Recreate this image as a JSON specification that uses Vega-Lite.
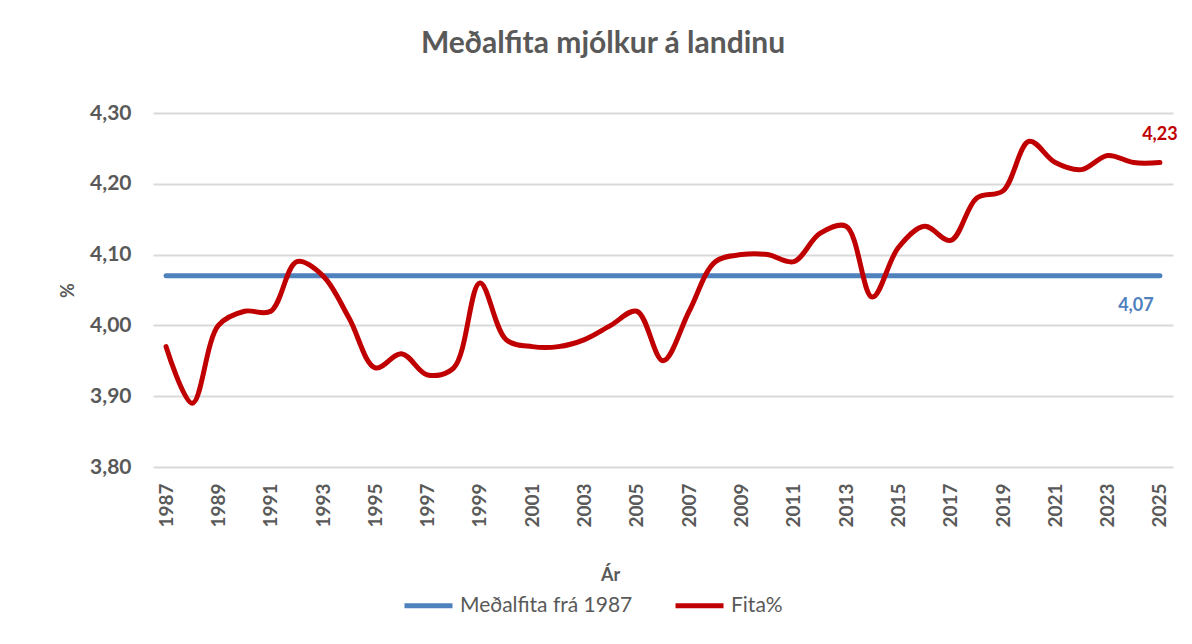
{
  "$schema": "https://vega.github.io/schema/vega-lite/v6.json",
  "width": 1020,
  "height": 354,
  "autosize": {"type": "none"},
  "padding": {"left": 153, "top": 113, "right": 19, "bottom": 177},
  "background": "white",
  "config": {
    "view": {"stroke": null},
    "font": "Lato",
    "locale": {"number": {"decimal": ",", "thousands": ".", "grouping": [3], "currency": ["", " kr."]}}
  },
  "title": {
    "text": "Meðalfita mjólkur á landinu",
    "anchor": "middle",
    "frame": "group",
    "dx": -60,
    "offset": 43,
    "fontSize": 30,
    "font": "Lato",
    "fontWeight": "bold",
    "color": "#595959"
  },
  "datasets": {
    "fita": [
      {"ar": 1987, "gildi": 3.97, "rod": "Fita%"},
      {"ar": 1988, "gildi": 3.89, "rod": "Fita%"},
      {"ar": 1989, "gildi": 4.00, "rod": "Fita%"},
      {"ar": 1990, "gildi": 4.02, "rod": "Fita%"},
      {"ar": 1991, "gildi": 4.02, "rod": "Fita%"},
      {"ar": 1992, "gildi": 4.09, "rod": "Fita%"},
      {"ar": 1993, "gildi": 4.07, "rod": "Fita%"},
      {"ar": 1994, "gildi": 4.01, "rod": "Fita%"},
      {"ar": 1995, "gildi": 3.94, "rod": "Fita%"},
      {"ar": 1996, "gildi": 3.96, "rod": "Fita%"},
      {"ar": 1997, "gildi": 3.93, "rod": "Fita%"},
      {"ar": 1998, "gildi": 3.94, "rod": "Fita%"},
      {"ar": 1999, "gildi": 4.06, "rod": "Fita%"},
      {"ar": 2000, "gildi": 3.98, "rod": "Fita%"},
      {"ar": 2001, "gildi": 3.97, "rod": "Fita%"},
      {"ar": 2002, "gildi": 3.97, "rod": "Fita%"},
      {"ar": 2003, "gildi": 3.98, "rod": "Fita%"},
      {"ar": 2004, "gildi": 4.00, "rod": "Fita%"},
      {"ar": 2005, "gildi": 4.02, "rod": "Fita%"},
      {"ar": 2006, "gildi": 3.95, "rod": "Fita%"},
      {"ar": 2007, "gildi": 4.02, "rod": "Fita%"},
      {"ar": 2008, "gildi": 4.09, "rod": "Fita%"},
      {"ar": 2009, "gildi": 4.10, "rod": "Fita%"},
      {"ar": 2010, "gildi": 4.10, "rod": "Fita%"},
      {"ar": 2011, "gildi": 4.09, "rod": "Fita%"},
      {"ar": 2012, "gildi": 4.13, "rod": "Fita%"},
      {"ar": 2013, "gildi": 4.14, "rod": "Fita%"},
      {"ar": 2014, "gildi": 4.04, "rod": "Fita%"},
      {"ar": 2015, "gildi": 4.11, "rod": "Fita%"},
      {"ar": 2016, "gildi": 4.14, "rod": "Fita%"},
      {"ar": 2017, "gildi": 4.12, "rod": "Fita%"},
      {"ar": 2018, "gildi": 4.18, "rod": "Fita%"},
      {"ar": 2019, "gildi": 4.19, "rod": "Fita%"},
      {"ar": 2020, "gildi": 4.26, "rod": "Fita%"},
      {"ar": 2021, "gildi": 4.23, "rod": "Fita%"},
      {"ar": 2022, "gildi": 4.22, "rod": "Fita%"},
      {"ar": 2023, "gildi": 4.24, "rod": "Fita%"},
      {"ar": 2024, "gildi": 4.23, "rod": "Fita%"},
      {"ar": 2025, "gildi": 4.23, "rod": "Fita%"}
    ],
    "medal": [
      {"ar": 1987, "gildi": 4.07, "rod": "Meðalfita frá 1987"},
      {"ar": 1988, "gildi": 4.07, "rod": "Meðalfita frá 1987"},
      {"ar": 1989, "gildi": 4.07, "rod": "Meðalfita frá 1987"},
      {"ar": 1990, "gildi": 4.07, "rod": "Meðalfita frá 1987"},
      {"ar": 1991, "gildi": 4.07, "rod": "Meðalfita frá 1987"},
      {"ar": 1992, "gildi": 4.07, "rod": "Meðalfita frá 1987"},
      {"ar": 1993, "gildi": 4.07, "rod": "Meðalfita frá 1987"},
      {"ar": 1994, "gildi": 4.07, "rod": "Meðalfita frá 1987"},
      {"ar": 1995, "gildi": 4.07, "rod": "Meðalfita frá 1987"},
      {"ar": 1996, "gildi": 4.07, "rod": "Meðalfita frá 1987"},
      {"ar": 1997, "gildi": 4.07, "rod": "Meðalfita frá 1987"},
      {"ar": 1998, "gildi": 4.07, "rod": "Meðalfita frá 1987"},
      {"ar": 1999, "gildi": 4.07, "rod": "Meðalfita frá 1987"},
      {"ar": 2000, "gildi": 4.07, "rod": "Meðalfita frá 1987"},
      {"ar": 2001, "gildi": 4.07, "rod": "Meðalfita frá 1987"},
      {"ar": 2002, "gildi": 4.07, "rod": "Meðalfita frá 1987"},
      {"ar": 2003, "gildi": 4.07, "rod": "Meðalfita frá 1987"},
      {"ar": 2004, "gildi": 4.07, "rod": "Meðalfita frá 1987"},
      {"ar": 2005, "gildi": 4.07, "rod": "Meðalfita frá 1987"},
      {"ar": 2006, "gildi": 4.07, "rod": "Meðalfita frá 1987"},
      {"ar": 2007, "gildi": 4.07, "rod": "Meðalfita frá 1987"},
      {"ar": 2008, "gildi": 4.07, "rod": "Meðalfita frá 1987"},
      {"ar": 2009, "gildi": 4.07, "rod": "Meðalfita frá 1987"},
      {"ar": 2010, "gildi": 4.07, "rod": "Meðalfita frá 1987"},
      {"ar": 2011, "gildi": 4.07, "rod": "Meðalfita frá 1987"},
      {"ar": 2012, "gildi": 4.07, "rod": "Meðalfita frá 1987"},
      {"ar": 2013, "gildi": 4.07, "rod": "Meðalfita frá 1987"},
      {"ar": 2014, "gildi": 4.07, "rod": "Meðalfita frá 1987"},
      {"ar": 2015, "gildi": 4.07, "rod": "Meðalfita frá 1987"},
      {"ar": 2016, "gildi": 4.07, "rod": "Meðalfita frá 1987"},
      {"ar": 2017, "gildi": 4.07, "rod": "Meðalfita frá 1987"},
      {"ar": 2018, "gildi": 4.07, "rod": "Meðalfita frá 1987"},
      {"ar": 2019, "gildi": 4.07, "rod": "Meðalfita frá 1987"},
      {"ar": 2020, "gildi": 4.07, "rod": "Meðalfita frá 1987"},
      {"ar": 2021, "gildi": 4.07, "rod": "Meðalfita frá 1987"},
      {"ar": 2022, "gildi": 4.07, "rod": "Meðalfita frá 1987"},
      {"ar": 2023, "gildi": 4.07, "rod": "Meðalfita frá 1987"},
      {"ar": 2024, "gildi": 4.07, "rod": "Meðalfita frá 1987"},
      {"ar": 2025, "gildi": 4.07, "rod": "Meðalfita frá 1987"}
    ]
  },
  "encoding": {
    "x": {
      "field": "ar",
      "type": "ordinal",
      "title": "Ár",
      "axis": {
        "values": [1987,1989,1991,1993,1995,1997,1999,2001,2003,2005,2007,2009,2011,2013,2015,2017,2019,2021,2023,2025],
        "labelAngle": -90,
        "labelFontSize": 19,
        "labelFontWeight": "bold",
        "labelColor": "#595959",
        "labelPadding": 16,
        "domain": false,
        "ticks": false,
        "grid": false,
        "titleFontSize": 18,
        "titleFontWeight": "bold",
        "titleColor": "#595959",
        "titleX": 457,
        "titleY": 113,
        "titleAlign": "center",
        "titleBaseline": "alphabetic"
      }
    },
    "y": {
      "field": "gildi",
      "type": "quantitative",
      "title": "%",
      "scale": {"domain": [3.8, 4.3], "zero": false, "nice": false},
      "axis": {
        "values": [3.8, 3.9, 4.0, 4.1, 4.2, 4.3],
        "format": ".2f",
        "labelFontSize": 21,
        "labelFontWeight": "bold",
        "labelColor": "#595959",
        "labelPadding": 22,
        "domain": false,
        "ticks": false,
        "gridColor": "#d9d9d9",
        "gridWidth": 2,
        "titleFontSize": 18,
        "titleFontWeight": "bold",
        "titleColor": "#595959",
        "titlePadding": 12
      }
    },
    "color": {
      "field": "rod",
      "type": "nominal",
      "scale": {"domain": ["Meðalfita frá 1987", "Fita%"], "range": ["#4F81BD", "#C00000"]},
      "legend": {
        "title": null,
        "orient": "none",
        "direction": "horizontal",
        "legendX": 249,
        "legendY": 466,
        "symbolType": "stroke",
        "symbolSize": 2304,
        "symbolStrokeWidth": 5,
        "labelFontSize": 21,
        "labelColor": "#595959",
        "labelOffset": 5,
        "labelLimit": 0,
        "columnPadding": 32
      }
    }
  },
  "layer": [
    {
      "data": {"name": "medal"},
      "mark": {"type": "line", "strokeWidth": 5, "strokeCap": "round"}
    },
    {
      "data": {"name": "fita"},
      "mark": {"type": "line", "strokeWidth": 5, "strokeCap": "round", "interpolate": "catmull-rom"}
    },
    {
      "data": {"name": "fita"},
      "transform": [{"filter": "datum.ar == 2025"}],
      "mark": {"type": "text", "fontSize": 18, "fontWeight": "bold", "dy": -28, "align": "center"},
      "encoding": {"text": {"field": "gildi", "type": "quantitative", "format": ".2f"}}
    },
    {
      "data": {"name": "medal"},
      "transform": [{"filter": "datum.ar == 2025"}],
      "mark": {"type": "text", "fontSize": 18, "fontWeight": "bold", "dy": 30, "dx": -24, "align": "center"},
      "encoding": {"text": {"field": "gildi", "type": "quantitative", "format": ".2f"}}
    }
  ]
}
